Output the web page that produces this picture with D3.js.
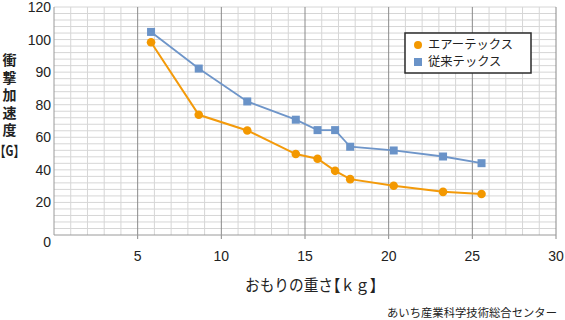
<!DOCTYPE html>
<head>
  <meta charset="utf-8">
  <script src="https://d3js.org/d3.v7.min.js"></script>
  <style>
    body { margin:0; background:#fff; }
    text { font-family: "Liberation Sans", "Noto Sans CJK JP", sans-serif; fill:#222; }
    .jp { font-family: "Noto Sans CJK JP", sans-serif; }
    .halt { font-feature-settings: "halt"; }
  </style>
</head>

<body>
  <script>
    // おもりの重さ [kg]
    var weights = [5.8, 8.65, 11.55, 14.45, 15.75, 16.8, 17.7, 20.3, 23.25, 25.55];
    // エアーテックス
    var airTex = [99.2, 73.8, 64.2, 49.7, 46.8, 39.4, 34.3, 30.2, 26.5, 25.2];
    // 従来テックス
    var oldTex = [104.7, 91.1, 81.0, 70.8, 64.4, 64.4, 54.2, 51.9, 48.2, 44.1];

    var yTickValues = [0, 20, 40, 60, 80, 90, 100, 120];
    var xTickValues = [5, 10, 15, 20, 25, 30];
    var seriesNames = ["エアーテックス", "従来テックス"];

    var W = 565, H = 320;
    var pLeft = 54, pRight = 556, pTop = 7, pBottom = 235;

    var svg = d3.select("body").append("svg")
      .attr("width", W).attr("height", H);

    var x = d3.scaleLinear().domain([0, 30]).range([pLeft, pRight]);
    // labels are evenly spaced on the axis
    var y = d3.scaleLinear()
      .domain(yTickValues)
      .range(yTickValues.map(function (d, i) { return pBottom - i * (pBottom - pTop) / (yTickValues.length - 1); }));
    var gridY = d3.scaleLinear().domain([0, 35]).range([pBottom, pTop]);

    // horizontal grid
    svg.append("g").selectAll("line")
      .data(d3.range(1, 36))
      .enter().append("line")
      .attr("x1", pLeft).attr("x2", pRight)
      .attr("y1", function (d) { return gridY(d); })
      .attr("y2", function (d) { return gridY(d); })
      .attr("stroke", "#d6d6d6").attr("stroke-width", 1);

    // vertical grid
    svg.append("g").selectAll("line")
      .data(d3.range(1, 31))
      .enter().append("line")
      .attr("x1", function (d) { return x(d); })
      .attr("x2", function (d) { return x(d); })
      .attr("y1", pTop)
      .attr("y2", function (d) { return d % 5 == 0 ? pBottom + 4 : pBottom; })
      .attr("stroke", function (d) { return d % 5 == 0 ? "#8a8a8a" : "#d6d6d6"; })
      .attr("stroke-width", 1);

    // axes lines
    svg.append("line").attr("x1", pLeft).attr("x2", pLeft).attr("y1", pTop).attr("y2", pBottom)
      .attr("stroke", "#9a9a9a");
    svg.append("line").attr("x1", pLeft).attr("x2", pRight).attr("y1", pBottom).attr("y2", pBottom)
      .attr("stroke", "#9a9a9a");

    // y tick labels
    svg.append("g").selectAll("text")
      .data(yTickValues)
      .enter().append("text")
      .attr("x", 51)
      .attr("y", function (d) { return y(d) + (d == 0 ? 7 : 0); })
      .attr("dy", "0.36em")
      .attr("text-anchor", "end")
      .attr("font-size", 14)
      .text(function (d) { return d; });

    // x tick labels
    svg.append("g").selectAll("text")
      .data(xTickValues)
      .enter().append("text")
      .attr("x", function (d) { return x(d); })
      .attr("y", 256)
      .attr("dy", "0.36em")
      .attr("text-anchor", "middle")
      .attr("font-size", 14)
      .text(function (d) { return d; });

    // lines
    var data1 = weights.map(function (w, i) { return [w, airTex[i]]; });
    var data2 = weights.map(function (w, i) { return [w, oldTex[i]]; });
    var line = d3.line()
      .x(function (d) { return x(d[0]); })
      .y(function (d) { return y(d[1]); });

    svg.append("path").datum(data2).attr("d", line)
      .attr("fill", "none").attr("stroke", "#6e95c9").attr("stroke-width", 1.8);
    svg.append("path").datum(data1).attr("d", line)
      .attr("fill", "none").attr("stroke", "#f39a0a").attr("stroke-width", 2);

    svg.append("g").selectAll("rect")
      .data(data2)
      .enter().append("rect")
      .attr("x", function (d) { return x(d[0]) - 4; })
      .attr("y", function (d) { return y(d[1]) - 4; })
      .attr("width", 8).attr("height", 8)
      .attr("fill", "#6a93c8");

    svg.append("g").selectAll("circle")
      .data(data1)
      .enter().append("circle")
      .attr("cx", function (d) { return x(d[0]); })
      .attr("cy", function (d) { return y(d[1]); })
      .attr("r", 4.3)
      .attr("fill", "#f39800");

    // legend
    var lg = svg.append("g");
    lg.append("rect").attr("x", 405).attr("y", 33).attr("width", 126).attr("height", 40)
      .attr("fill", "#fff").attr("stroke", "#2a2a2a").attr("stroke-width", 1.5);
    lg.append("circle").attr("cx", 418).attr("cy", 45).attr("r", 4).attr("fill", "#f39800");
    lg.append("rect").attr("x", 414).attr("y", 58).attr("width", 8).attr("height", 8).attr("fill", "#6a93c8");
    lg.selectAll("text.lg")
      .data(seriesNames)
      .enter().append("text")
      .attr("class", "jp")
      .attr("x", 428)
      .attr("y", function (d, i) { return 45 + i * 17; })
      .attr("dy", "0.36em")
      .attr("font-size", 12.3)
      .text(function (d) { return d; });

    // y title
    var yTitle = ["衝", "撃", "加", "速", "度"];
    svg.append("g").selectAll("text")
      .data(yTitle)
      .enter().append("text")
      .attr("class", "jp")
      .attr("x", 9.5)
      .attr("y", function (d, i) { return 60 + i * 17.5; })
      .attr("dy", "0.36em")
      .attr("text-anchor", "middle")
      .attr("font-size", 14)
      .attr("font-weight", "bold")
      .text(function (d) { return d; });
    svg.append("text").attr("class", "jp halt")
      .attr("x", 0).attr("y", 151).attr("dy", "0.36em")
      .attr("font-size", 14).attr("font-weight", "bold")
      .attr("textLength", 19).attr("lengthAdjust", "spacingAndGlyphs")
      .text("【G】");

    // x title
    svg.append("text").attr("class", "jp halt")
      .attr("x", 245).attr("y", 285).attr("dy", "0.36em")
      .attr("font-size", 16)
      .attr("textLength", 132).attr("lengthAdjust", "spacingAndGlyphs")
      .text("おもりの重さ【ｋｇ】");

    // source
    svg.append("text").attr("class", "jp")
      .attr("x", 387).attr("y", 313).attr("dy", "0.36em")
      .attr("font-size", 11.3)
      .attr("textLength", 170).attr("lengthAdjust", "spacingAndGlyphs")
      .text("あいち産業科学技術総合センター");
  </script>
</body>
